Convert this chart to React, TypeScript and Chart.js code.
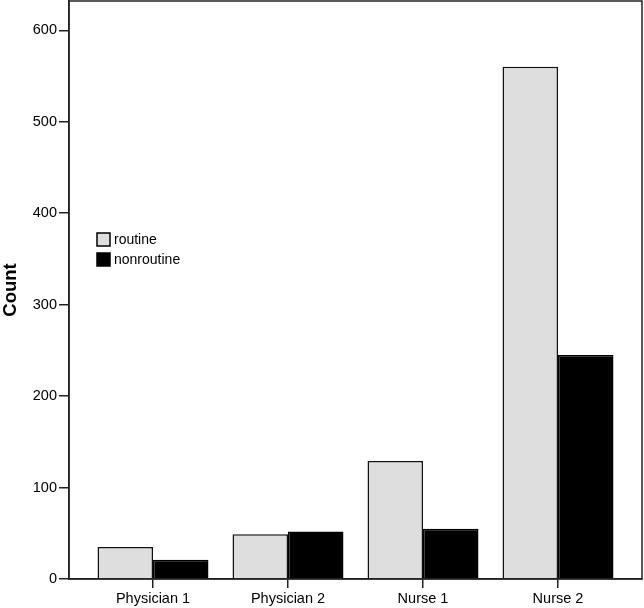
import React, { useEffect, useRef } from "react";
import { Chart, registerables } from "chart.js";

Chart.register(...registerables);

const categories = ["Physician 1", "Physician 2", "Nurse 1", "Nurse 2"];
const routine = [35, 49, 129, 560];
const nonroutine = [21, 52, 55, 245];
const seriesNames = ["routine", "nonroutine"];
const yTicks = [0, 100, 200, 300, 400, 500, 600];

const FONT = "'Liberation Sans', Arial, sans-serif";
const GRAY = "#dedede";

const framePlugin = {
  id: "frame",
  afterDatasetsDraw(chart: any) {
    const { ctx, chartArea } = chart;
    ctx.save();
    ctx.strokeStyle = "#222";
    ctx.lineWidth = 1.5;
    ctx.strokeRect(chartArea.left, chartArea.top, chartArea.right - chartArea.left, chartArea.bottom - chartArea.top);
    ctx.restore();
  },
};

const legendPlugin = {
  id: "insideLegend",
  afterDraw(chart: any) {
    const { ctx, chartArea } = chart;
    const x0 = chartArea.left + 28;
    const y0 = 233;
    const fills = [GRAY, "#000"];
    ctx.save();
    seriesNames.forEach((name, i) => {
      const y = y0 + i * 20;
      ctx.fillStyle = fills[i];
      ctx.fillRect(x0, y, 13, 13);
      ctx.strokeStyle = "#000";
      ctx.lineWidth = 1.5;
      ctx.strokeRect(x0, y, 13, 13);
      ctx.fillStyle = "#000";
      ctx.font = `14px ${FONT}`;
      ctx.textBaseline = "middle";
      ctx.textAlign = "left";
      ctx.fillText(name, x0 + 17, y + 7);
    });
    ctx.restore();
  },
};

export default function App() {
  const ref = useRef<HTMLCanvasElement>(null);
  useEffect(() => {
    if (!ref.current) return;
    const chart = new Chart(ref.current, {
      type: "bar",
      data: {
        datasets: [
          {
            label: seriesNames[0],
            data: categories.map((_, i) => ({ x: i, y: routine[i] })),
            backgroundColor: GRAY,
            borderColor: "#111",
            borderWidth: 1.5,
            categoryPercentage: 0.822,
            barPercentage: 1,
          },
          {
            label: seriesNames[1],
            data: categories.map((_, i) => ({ x: i, y: nonroutine[i] })),
            backgroundColor: "#000",
            borderColor: "#000",
            borderWidth: 1.5,
            categoryPercentage: 0.822,
            barPercentage: 1,
          },
        ],
      },
      options: {
        animation: false,
        responsive: false,
        maintainAspectRatio: false,
        layout: { padding: { top: 1, right: 2, left: 0, bottom: 0 } },
        plugins: { legend: { display: false }, tooltip: { enabled: false } },
        scales: {
          x: {
            type: "linear",
            min: -0.6222,
            max: 3.6222,
            offset: false,
            bounds: "data",
            afterBuildTicks: (scale: any) => {
              scale.ticks = categories.map((_, i) => ({ value: i }));
            },
            afterFit: (scale: any) => {
              scale.height = 29;
              scale.paddingLeft = 0;
              scale.paddingRight = 0;
            },
            grid: { offset: false, drawOnChartArea: false, drawTicks: true, tickLength: 9, color: "#222", lineWidth: 1.5 },
            border: { color: "#222", width: 1.5 },
            ticks: {
              autoSkip: false,
              maxRotation: 0,
              padding: 2,
              color: "#000",
              font: { family: FONT, size: 14.5 },
              callback: (v: any) => categories[v as number] ?? "",
            },
          },
          y: {
            min: 0,
            max: 632,
            bounds: "data",
            afterBuildTicks: (scale: any) => {
              scale.ticks = yTicks.map((v) => ({ value: v }));
            },
            afterFit: (scale: any) => {
              scale.width = 69;
              scale.paddingTop = 0;
              scale.paddingBottom = 0;
            },
            grid: { drawOnChartArea: false, drawTicks: true, tickLength: 10, color: "#222", lineWidth: 1.5 },
            border: { color: "#222", width: 1.5 },
            ticks: {
              padding: 2,
              color: "#000",
              font: { family: FONT, size: 14.5 },
            },
            title: {
              display: true,
              text: "Count",
              color: "#000",
              padding: 0,
              font: { family: FONT, size: 18.5, weight: "bold" },
            },
          },
        },
      },
      plugins: [framePlugin, legendPlugin],
    });
    return () => chart.destroy();
  }, []);
  return (
    <div style={{ position: "fixed", left: 0, top: 0, width: 644, height: 608, background: "#fff" }}>
      <canvas ref={ref} width={644} height={608} style={{ width: 644, height: 608 }} />
    </div>
  );
}
